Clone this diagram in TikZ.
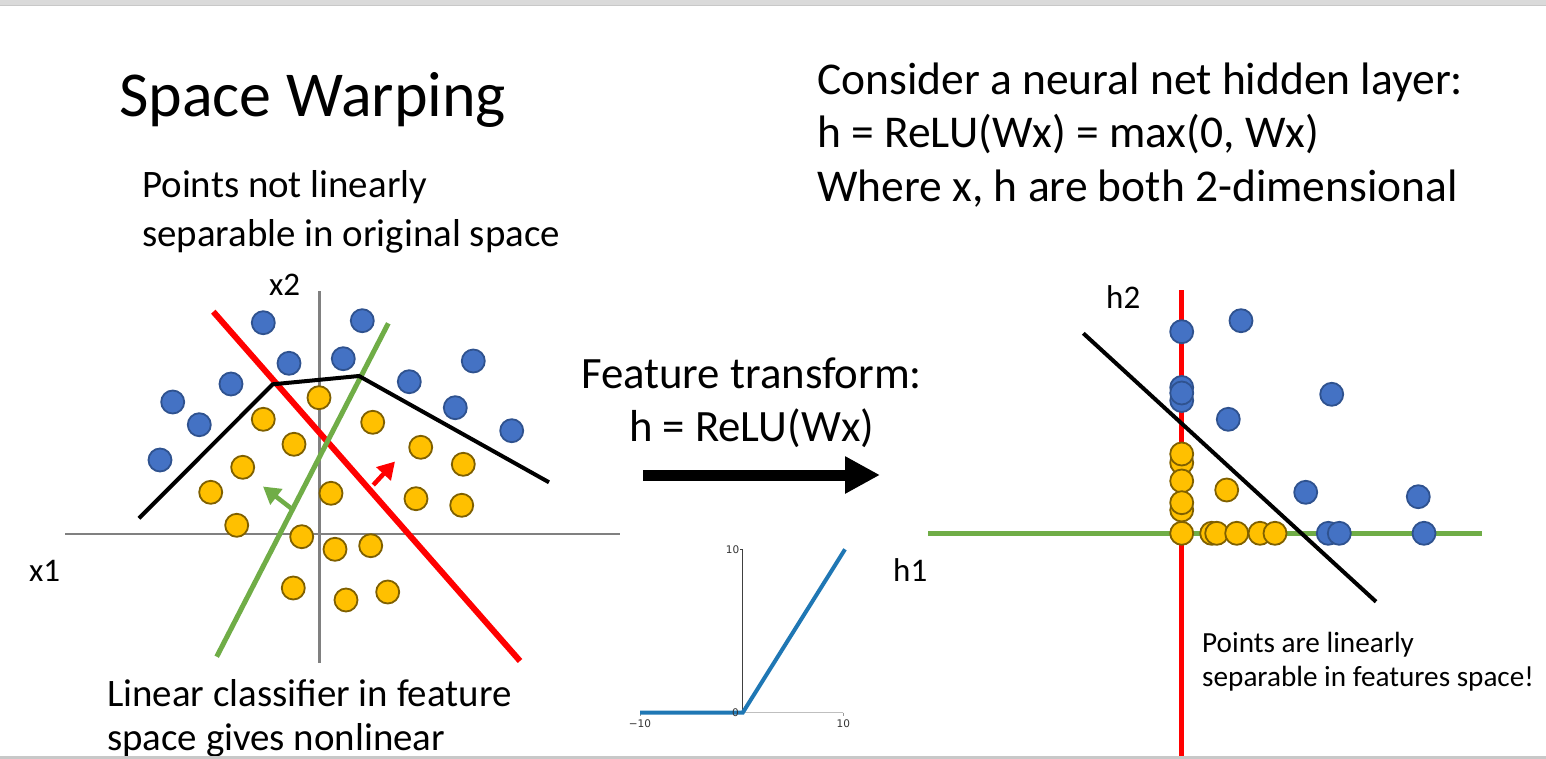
\documentclass[tikz,border=0pt]{standalone}
\usepackage{fontspec}
\setmainfont{Carlito}
\newfontfamily\mplfont{DejaVu Sans}
\usetikzlibrary{arrows.meta}
\definecolor{ptblue}{HTML}{4472C4}
\definecolor{ptblueedge}{HTML}{2F528F}
\definecolor{ptyel}{HTML}{FFC000}
\definecolor{ptyeledge}{HTML}{7F6000}
\definecolor{axgray}{HTML}{808080}
\definecolor{sepred}{HTML}{FF0000}
\definecolor{sepgreen}{HTML}{70AD47}
\definecolor{relublue}{HTML}{1F77B4}
\definecolor{bandgray}{HTML}{DADADA}
\definecolor{bandedge}{HTML}{C8C8C8}
\begin{document}
\begin{tikzpicture}[x=1pt,y=-1pt,
  bpt/.style={circle, fill=ptblue, draw=ptblueedge, line width=1.8pt, minimum size=23pt, inner sep=0pt},
  ypt/.style={circle, fill=ptyel, draw=ptyeledge, line width=1.8pt, minimum size=23pt, inner sep=0pt},
  axis/.style={draw=axgray, line width=2.5pt},
  txt/.style={anchor=base west, inner sep=0pt},
  bigtxt/.style={txt, font=\fontsize{45.5}{53}\selectfont},
  midtxt/.style={txt, font=\fontsize{38.9}{48}\selectfont},
  lbltxt/.style={txt, font=\fontsize{33}{40}\selectfont},
  smalltxt/.style={txt, font=\fontsize{29.2}{34}\selectfont},
  ticktxt/.style={inner sep=0pt, font=\mplfont\fontsize{10.5}{12}\selectfont, text=black!80},
  sepline/.style={line width=#1, line cap=butt},
]
% canvas
\fill[white] (0,0) rectangle (1546,759);
\useasboundingbox (0,0) rectangle (1546,759);
\fill[bandgray] (0,0) rectangle (1546,5);
\fill[bandedge] (0,5) rectangle (1546,6.5);

% title and texts
\node[txt, font=\fontsize{64}{70}\selectfont] (title) at (119,116.7) {Space Warping};
\node[bigtxt] (c1) at (817,95) {Consider a neural net hidden layer:};
\node[bigtxt] (c2) at (817,148) {h = ReLU(Wx) = max(0, Wx)};
\node[bigtxt] (c3) at (817,201.5) {Where x, h are both 2-dimensional};
\node[midtxt] (p1) at (142,198) {Points not linearly};
\node[midtxt] (p2) at (142,246.5) {separable in original space};
\node[midtxt] (l1) at (107,706.5) {Linear classifier in feature};
\node[midtxt] (l2) at (107,750) {space gives nonlinear};
\node[smalltxt] (s1) at (1202,652) {Points are linearly};
\node[smalltxt] (s2) at (1202,686) {separable in features space!};
\node[anchor=base, inner sep=0pt, font=\fontsize{44.8}{53}\selectfont] (f1) at (751.5,388) {Feature transform:};
\node[anchor=base, inner sep=0pt, font=\fontsize{44.8}{53}\selectfont] (f2) at (751.5,441.7) {h = ReLU(Wx)};
\node[lbltxt] (x1) at (29,581.7) {x1};
\node[lbltxt] (x2) at (269,295) {x2};
\node[lbltxt] (h1) at (893,581) {h1};
\node[lbltxt] (h2) at (1106,308) {h2};

% big arrow
\coordinate (arrS) at (643,475);
\coordinate (arrE) at (880,475);
\draw[line width=11pt, -{Triangle[length=35pt, width=35pt]}] (arrS) -- (arrE);

% ---------- left plot ----------
\coordinate (axL) at (65,534);
\coordinate (axR) at (620,534);
\coordinate (axT) at (319.3,291);
\coordinate (axB) at (319.3,662.7);
\draw[axis] (axL) -- (axR);
\draw[axis] (axT) -- (axB);

\coordinate (rA) at (213.3,311.7);
\coordinate (rB) at (520,661);
\draw[sepred, sepline=6pt] (rA) -- (rB);
\coordinate (gA) at (216.7,656.7);
\coordinate (gB) at (388.3,323.3);
\draw[sepgreen, sepline=5pt] (gA) -- (gB);
\coordinate (k1) at (139,518.3);
\coordinate (k2) at (272.7,384.3);
\coordinate (k3) at (359,376);
\coordinate (k4) at (549,482.3);
\draw[black, line width=4pt, line join=miter] (k1) -- (k2) -- (k3) -- (k4);

\coordinate (raS) at (373.3,485);
\coordinate (raE) at (395,461.5);
\draw[sepred, line width=4.5pt, -{Triangle[length=17pt, width=19pt]}] (raS) -- (raE);
\coordinate (gaS) at (293.3,510);
\coordinate (gaE) at (263,486.5);
\draw[sepgreen, line width=4.5pt, -{Triangle[length=17pt, width=19pt]}] (gaS) -- (gaE);

\foreach \px/\py [count=\i] in {263.3/322.7, 362.3/320.7, 289/363.3, 343.3/358.7, 473.3/361,
  231/384, 409.3/381.7, 172.7/402, 199.3/424.7, 455.3/407.7, 511.7/430.7, 160/460}
  \node[bpt] (bl\i) at (\px,\py) {};
\foreach \px/\py [count=\i] in {319/397.7, 263.3/419.3, 372.7/422.3, 294/444.3, 420.7/447.3,
  463.3/464.3, 242.7/467.3, 210.7/492.3, 331/493.3, 416/498.7, 461.7/505.3, 236.7/525.3,
  301.7/536.7, 335/549.3, 370.7/545.7, 293.3/588, 346/600, 387.7/592}
  \node[ypt] (yl\i) at (\px,\py) {};

% ---------- ReLU plot ----------
\coordinate (rlO) at (742.7,712.7);
\coordinate (rlT) at (742.7,549.3);
\coordinate (rlL) at (640,712.7);
\coordinate (rlR) at (843.3,712.7);
\draw[black!25, line width=1.5pt] (rlL) -- (rlR);
\draw[black!75, line width=0.7pt] (rlO) -- (rlT);
\draw[black!75, line width=0.7pt] (rlT) -- ++(-3,0);
\draw[black!40, line width=0.7pt] (rlL) -- ++(0,3);
\draw[black!40, line width=0.7pt] (rlR) -- ++(0,3);
\coordinate (rlE) at (845,549.3);
\draw[relublue, line width=4pt] (rlL) -- (rlO) -- (rlE);
\node[ticktxt, anchor=east] (t10y) at (739.5,549.5) {10};
\node[ticktxt] (t0) at (735.5,713) {0};
\node[ticktxt] (tm10) at (640,723.5) {\textminus10};
\node[ticktxt] (t10x) at (843.3,723.5) {10};

% ---------- right plot ----------
\coordinate (hvT) at (1181.7,290);
\coordinate (hvB) at (1181.7,759);
\coordinate (hhL) at (928,533.3);
\coordinate (hhR) at (1481.7,533.3);
\draw[sepgreen, line width=5pt] (hhL) -- (hhR);
\draw[sepred, line width=5pt] (hvT) -- (hvB);
\coordinate (hkA) at (1083.3,333.3);
\coordinate (hkB) at (1376,601.7);

\foreach \px/\py [count=\i] in {1181.7/331.7, 1241/320.7, 1181.7/387.5, 1181.7/400.5, 1181.7/393,
  1331.7/394.3, 1228.3/419.3, 1305.7/492.3, 1418.3/496.7, 1328.3/533.3, 1339.3/533.3, 1424/533.3}
  \node[bpt] (br\i) at (\px,\py) {};
\foreach \px/\py [count=\i] in {1181.7/462.7, 1181.7/454, 1181.7/481, 1181.7/510, 1181.7/502.7,
  1181.7/533.3, 1226.7/490, 1211.7/533.3, 1216.7/533.3, 1236.7/533.3, 1260/533.3, 1275/533.3}
  \node[ypt] (yr\i) at (\px,\py) {};
\draw[black, line width=4pt] (hkA) -- (hkB);

% bottom edge
\fill[bandedge] (0,756) rectangle (1546,759);
\end{tikzpicture}
\end{document}
